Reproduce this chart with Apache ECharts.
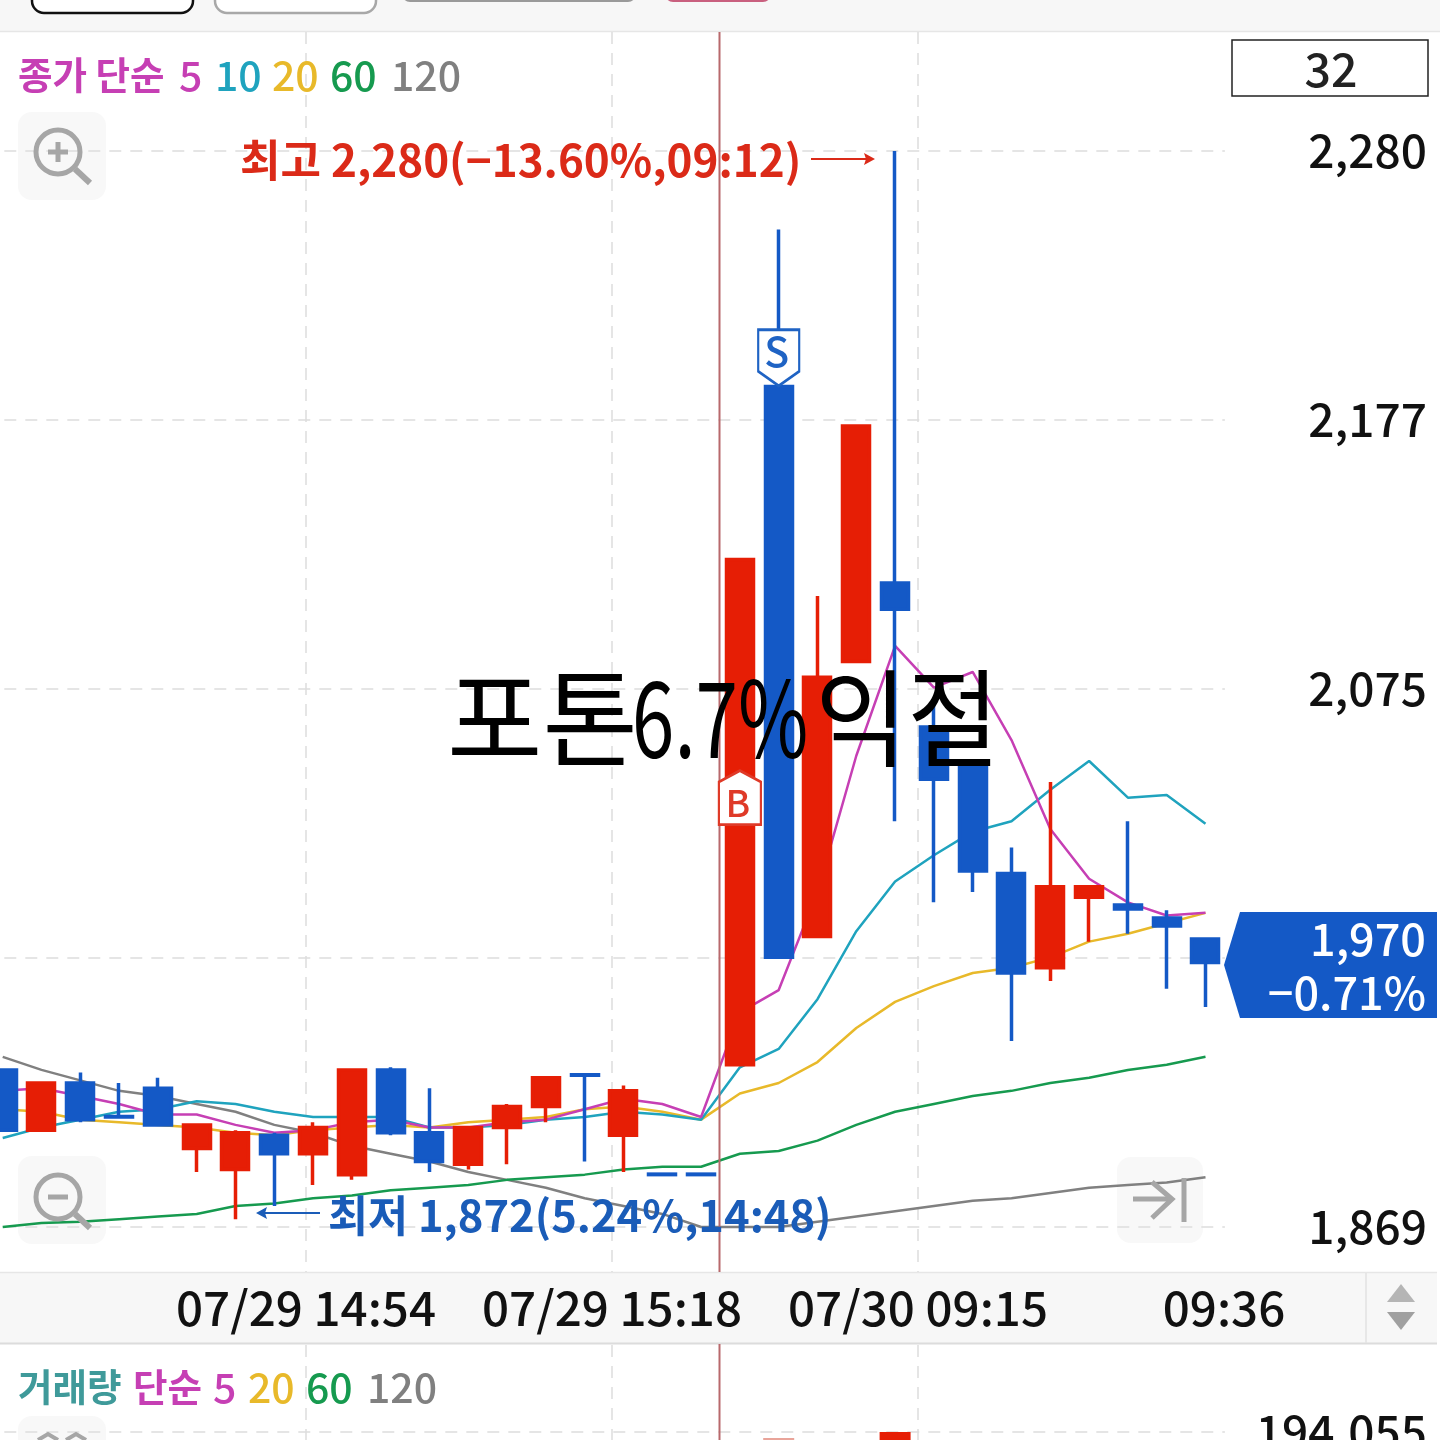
<!DOCTYPE html>
<html><head><meta charset="utf-8">
<style>html,body{margin:0;padding:0;background:#fff}#c{width:1440px;height:1440px}</style>
<script src="https://cdn.jsdelivr.net/npm/echarts@6/dist/echarts.min.js"></script>
</head><body><div id="c"></div>
<script>
const categories = ['14:30','14:33','14:36','14:39','14:42','14:45','14:48','14:51','14:54','14:57','15:00','15:03','15:06','15:09','15:12','15:15','15:18','15:21','15:30','09:00','09:03','09:06','09:09','09:12','09:15','09:18','09:21','09:24','09:27','09:30','09:33','09:36'];
// [open, close, low, high]
const candles = [
[1929,1906,1906,1929],[1906,1924,1906,1924],[1924,1910,1909,1928],[1911.2,1911,1911,1924],
[1922,1908,1908,1926],[1899,1908,1890,1908],[1891,1905,1872,1906],[1904,1897,1877,1905],
[1897,1907,1885,1909],[1889,1929,1887,1929],[1929,1905,1904,1930],[1905,1894,1890,1922],
[1893,1907,1891,1907],[1907,1915,1893,1916],[1915,1926,1909,1926],[1927.2,1927,1894,1927.2],
[1904,1921,1890,1923],[1889.2,1889,1889,1889.2],[1889.2,1889,1889,1889.2],[1931,2124,1931,2124],
[2190,1972,1972,2250],[1980,2079,1980,2110],[2085,2175,2085,2175],[2115,2105,2024,2280],
[2060,2040,1993,2069],[2045,2005,1997,2045],[2004,1966,1940,2014],[1968,1999,1963,2039],
[1995,1999,1978,1999],[1992,1990.5,1981,2024],[1987,1984,1960,1990],[1979,1970,1953,1979]];
const ma5 = [1921,1922,1919,1916,1912,1912,1908,1905,1906,1909,1910,1907,1907,1909,1910,1914,1918,1916,1911,1951,1959.5,1997,2049,2091,2075,2081,2055,2021,2002,1993,1988,1989];
const ma10 = [1903,1907,1910,1913,1914,1917,1916,1913,1911,1911,1911,1907,1907,1908,1910,1911,1913,1912,1910,1930,1937,1956,1982,2001,2011,2020,2024,2036,2047,2033,2034,2023];
const ma20 = [1914,1913,1910,1909,1908,1907,1905,1904,1906,1907,1908,1907,1909,1910,1911,1914,1915,1913,1910,1920,1924,1932,1945,1955,1961,1966,1968,1972,1978,1981,1985,1989];
const ma60 = [1869,1870.5,1871,1872,1873,1874,1877,1878,1880,1881,1883,1884,1885,1887,1888,1889,1891,1892,1892,1897,1898,1902,1908,1913,1916,1919,1921,1924,1926,1929,1931,1934];
const ma120 = [1934,1929,1925,1921,1919,1916,1913,1908,1905,1900,1897,1894,1890,1887,1884,1880,1877,1874,1869,1869,1869,1871,1873,1875,1877,1879,1880,1882,1884,1885,1886,1888];
const volumes = {20:190300,23:194055};
const priceTicks = [2280,2177.25,2074.5,1971.75,1869];
const priceLabels = [2280,2177.25,2074.5,1869];
const timeGrid = [1,2,3];
const timeTicks = [1,2,3,4];
const timeLabels = ['07/29 14:54','07/29 15:18','07/30 09:15','09:36'];

const F = '"Noto Sans CJK KR Medium","Noto Sans CJK KR","Noto Sans",sans-serif';
const FR = '"Noto Sans CJK KR","Noto Sans",sans-serif';
const RED='#E61E05', BLUE='#1459C6', MAG='#C63FB4', CYAN='#1FA3BE', YEL='#E8B92A', GRN='#169A4F', GRY='#808080', TEAL='#3F9A9A';
const dash = {color:'#DDDDDD',width:1.5,type:[12,9]};

function maLine(name,data,color){return {name,type:'line',data,xAxisIndex:0,yAxisIndex:0,symbol:'none',smooth:false,z:2,
  lineStyle:{color,width:2.5},silent:true};}
function magnifier(cx,cy,plus){
  const out=[
   {type:'circle',shape:{cx,cy,r:22},style:{fill:'none',stroke:'#A6A6A6',lineWidth:5},z:11},
   {type:'line',shape:{x1:cx+17,y1:cy+17,x2:cx+32,y2:cy+31},style:{stroke:'#A6A6A6',lineWidth:6},z:11},
   {type:'line',shape:{x1:cx-10,y1:cy,x2:cx+10,y2:cy},style:{stroke:'#A6A6A6',lineWidth:5},z:11}];
  if(plus) out.push({type:'line',shape:{x1:cx,y1:cy-10,x2:cx,y2:cy+10},style:{stroke:'#A6A6A6',lineWidth:5},z:11});
  return out;
}
const lg = (x,y,text,fill)=>({type:'text',x,y,z:12,style:{text,fill,font:'41px '+F,verticalAlign:'middle'}});
const lh = (x,y,text,fill)=>({type:'text',x,y,z:12,style:{text,fill,font:'bold 37.5px '+FR,verticalAlign:'middle'}});
const title = (x,text,scaleX)=>({type:'text',x,y:718,scaleX,scaleY:1.15,z:20,style:{text,fill:'#000',font:'92px '+FR,verticalAlign:'middle'}});
const band = (y,h,w)=>({type:'rect',shape:{x:0,y,width:w,height:h},style:{fill:'#F7F7F7'},z:-2});
const graphic = [
 band(0,31,1440), band(1273,70,1437),
 {type:'line',shape:{x1:0,y1:31.5,x2:1440,y2:31.5},style:{stroke:'#E6E6E6',lineWidth:1.5},z:-1},
 {type:'line',shape:{x1:0,y1:1272.5,x2:1437,y2:1272.5},style:{stroke:'#E6E6E6',lineWidth:1.5},z:-1},
 {type:'line',shape:{x1:0,y1:1343.5,x2:1437,y2:1343.5},style:{stroke:'#DCDCDC',lineWidth:2},z:-1},
 {type:'line',shape:{x1:1366,y1:1273,x2:1366,y2:1343},style:{stroke:'#E2E2E2',lineWidth:1.5},z:-1},
 {type:'rect',shape:{x:32,y:-20,width:161,height:33,r:12},style:{fill:'#fff',stroke:'#111',lineWidth:2.5},z:-1},
 {type:'rect',shape:{x:215,y:-20,width:161,height:33,r:12},style:{fill:'#fff',stroke:'#A8A8A8',lineWidth:2.5},z:-1},
 {type:'rect',shape:{x:402,y:-20,width:234,height:22,r:8},style:{fill:'#9A9A9A'},z:-1},
 {type:'rect',shape:{x:665,y:-20,width:106,height:22,r:8},style:{fill:'#C9607F'},z:-1},
 {type:'line',shape:{x1:719.5,y1:32,x2:719.5,y2:1272},style:{stroke:'#B8696C',lineWidth:2},z:5},
 {type:'line',shape:{x1:719.5,y1:1344,x2:719.5,y2:1440},style:{stroke:'#B8696C',lineWidth:2},z:5},
 lh(18,75,'종가 단순',MAG), lg(179,75,'5',MAG), lg(215,75,'10',CYAN), lg(272,75,'20',YEL), lg(330,75,'60',GRN), lg(391,75,'120',GRY),
 lh(18,1387,'거래량',TEAL), lh(133,1387,'단순',MAG), lg(213,1387,'5',MAG), lg(248,1387,'20',YEL), lg(306,1387,'60',GRN), lg(367,1387,'120',GRY),
 {type:'rect',shape:{x:1232,y:40,width:196,height:56},style:{fill:'#fff',stroke:'#222',lineWidth:1.5},z:11},
 {type:'text',x:1331,y:69,z:12,style:{text:'32',fill:'#222',font:'46.5px '+F,align:'center',verticalAlign:'middle'}},
 {type:'text',x:240,y:160,z:12,style:{text:'최고 2,280(−13.60%,09:12)',fill:'#DB2A18',font:'bold 44px '+FR,verticalAlign:'middle'}},
 {type:'line',shape:{x1:811,y1:159,x2:868,y2:159},style:{stroke:'#DB2A18',lineWidth:2},z:12},
 {type:'polygon',shape:{points:[[875,159],[864,153],[866,159],[864,165]]},style:{fill:'#DB2A18'},z:12},
 {type:'text',x:328,y:1215,z:12,style:{text:'최저 1,872(5.24%,14:48)',fill:'#1A5CB8',font:'bold 43.5px '+FR,verticalAlign:'middle'}},
 {type:'line',shape:{x1:263,y1:1213,x2:320,y2:1213},style:{stroke:'#1A5CB8',lineWidth:2},z:12},
 {type:'polygon',shape:{points:[[256,1213],[267,1207],[265,1213],[267,1219]]},style:{fill:'#1A5CB8'},z:12},
 title(447,'포톤',1.127), title(632,'6.7%',0.83), title(815,'익절',1.09),
 {type:'polygon',shape:{points:[[1224,965],[1240,912],[1437,912],[1437,1018],[1240,1018]]},style:{fill:BLUE},z:11},
 {type:'text',x:1426,y:939,z:12,style:{text:'1,970',fill:'#fff',font:'45px '+F,align:'right',verticalAlign:'middle'}},
 {type:'text',x:1426,y:993,z:12,style:{text:'−0.71%',fill:'#fff',font:'45px '+F,align:'right',verticalAlign:'middle'}},
 {type:'rect',shape:{x:18,y:112,width:88,height:88,r:14},style:{fill:'#F8F8F8'},z:-1},
 {type:'rect',shape:{x:18,y:1156,width:88,height:88,r:14},style:{fill:'#F8F8F8'},z:-1},
 {type:'rect',shape:{x:1117,y:1157,width:86,height:86,r:14},style:{fill:'#F8F8F8'},z:-1},
 {type:'rect',shape:{x:18,y:1416,width:88,height:60,r:14},style:{fill:'#F8F8F8'},z:-1},
 ...magnifier(58,152,true), ...magnifier(58,1197,false),
 {type:'polyline',shape:{points:[[1133,1199],[1172,1199]]},style:{stroke:'#A6A6A6',lineWidth:5,fill:'none'},z:11},
 {type:'polyline',shape:{points:[[1152,1182],[1172,1199],[1152,1218]]},style:{stroke:'#A6A6A6',lineWidth:5,fill:'none'},z:11},
 {type:'line',shape:{x1:1184,y1:1178,x2:1184,y2:1222},style:{stroke:'#A6A6A6',lineWidth:5},z:11},
 {type:'polyline',shape:{points:[[38,1440],[48,1434],[58,1440]]},style:{stroke:'#A6A6A6',lineWidth:4,fill:'none'},z:11},
 {type:'polyline',shape:{points:[[66,1440],[76,1434],[86,1440]]},style:{stroke:'#A6A6A6',lineWidth:4,fill:'none'},z:11},
 {type:'polygon',shape:{points:[[1401,1284],[1415,1302],[1387,1302]]},style:{fill:'#B5B5B5'},z:11},
 {type:'polygon',shape:{points:[[1387,1312],[1415,1312],[1401,1330]]},style:{fill:'#A0A0A0'},z:11}
];
const pinShape = 'path://M1 1 L39 1 L39 41 L20 55 L1 41 Z';
const houseShape = 'path://M20 1 L39 12 L39 53 L1 53 L1 12 Z';
const option = {
 animation:false, backgroundColor:'#FFFFFF', graphic,
 grid:[{left:-16.7,top:32,width:1241.6,height:1240,outerBoundsMode:'none'},{left:-16.7,top:1345,width:1241.6,height:400,outerBoundsMode:'none'}],
 xAxis:[
  {type:'category',gridIndex:0,data:categories,show:false,boundaryGap:true},
  {type:'value',gridIndex:0,min:-0.05458,max:4.00294,position:'bottom',
   axisLine:{show:false},axisTick:{show:false,customValues:timeGrid},
   axisLabel:{customValues:timeTicks,margin:12,color:'#111',fontFamily:F,fontSize:47.5,hideOverlap:false,showMinLabel:true,showMaxLabel:true,
     verticalAlign:'top',formatter:v=>timeLabels[Math.round(v)-1]||''},
   splitLine:{show:true,lineStyle:dash}},
  {type:'category',gridIndex:1,data:categories,show:false,boundaryGap:true},
  {type:'value',gridIndex:1,min:-0.05458,max:4.00294,position:'top',
   axisLine:{show:false},axisTick:{show:false,customValues:timeGrid},axisLabel:{show:false},splitLine:{show:true,lineStyle:dash}}
 ],
 yAxis:[
  {type:'value',gridIndex:0,position:'right',min:1851.81,max:2325.45,scale:true,
   axisLine:{show:false},axisTick:{show:false,customValues:priceTicks},
   axisLabel:{customValues:priceLabels,align:'right',margin:202,color:'#111',fontFamily:F,fontSize:46,
     showMinLabel:true,showMaxLabel:true,formatter:v=>Math.round(v+0.01).toLocaleString('en-US')},
   splitLine:{show:true,lineStyle:dash}},
  {type:'value',gridIndex:1,position:'right',min:0,max:248000,
   axisLine:{show:false},axisTick:{show:false,customValues:[194055]},
   axisLabel:{customValues:[194055],align:'right',margin:202,padding:[6,0,0,0],color:'#111',fontFamily:F,fontSize:46,formatter:v=>v.toLocaleString('en-US')},
   splitLine:{show:true,lineStyle:dash}}
 ],
 series:[
  maLine('MA120',ma120,GRY), maLine('MA60',ma60,GRN), maLine('MA20',ma20,YEL), maLine('MA10',ma10,CYAN), maLine('MA5',ma5,MAG),
  {name:'price',type:'candlestick',data:candles,xAxisIndex:0,yAxisIndex:0,barWidth:27.5,z:3,silent:true,
   itemStyle:{color:RED,color0:BLUE,borderColor:RED,borderColor0:BLUE,borderWidth:3.5},
   markPoint:{silent:true,z:15,data:[
     {coord:[19,2033],symbol:houseShape,symbolSize:[42,54],
      itemStyle:{color:'#fff',borderColor:'#DF3A28',borderWidth:2.5},
      label:{show:true,position:'inside',formatter:'B',color:'#DF3A28',fontFamily:F,fontSize:37,offset:[-2,5]}},
     {coord:[20,2201],symbol:pinShape,symbolSize:[41,56],
      itemStyle:{color:'#fff',borderColor:'#1F63C4',borderWidth:2.5},
      label:{show:true,position:'inside',formatter:'S',color:'#1F63C4',fontFamily:F,fontSize:41,offset:[-2,-6]}}
   ]}},
  {name:'volume',type:'bar',xAxisIndex:2,yAxisIndex:1,barWidth:31,z:3,silent:true,
   data:categories.map((c,i)=>volumes[i]===undefined?'-':{value:volumes[i],itemStyle:{color:i===20?'#E9A49A':RED}})}
 ]
};
echarts.init(document.getElementById('c'),null,{renderer:'canvas'}).setOption(option);
</script></body></html>
